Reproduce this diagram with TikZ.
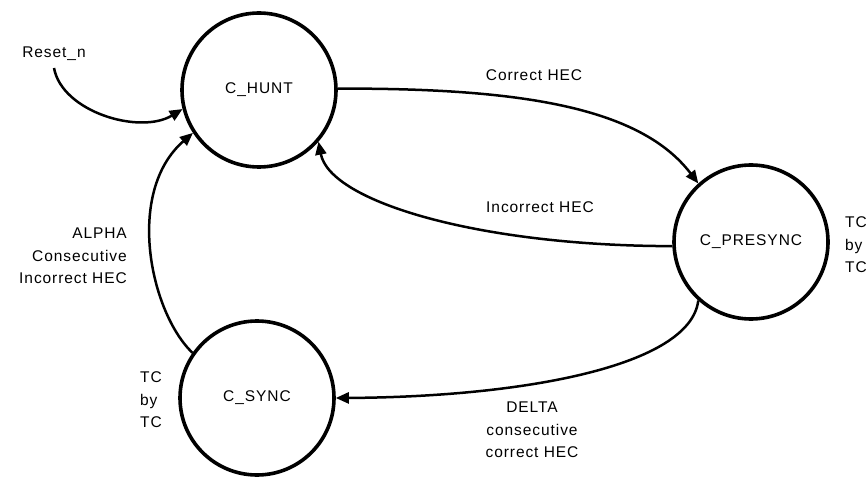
\documentclass[tikz,border=0pt]{standalone}
\usepackage{fontspec}
\setmainfont{Liberation Sans}[LetterSpace=6]
\usetikzlibrary{arrows.meta}
\begin{document}
\begin{tikzpicture}[x=1pt,y=1pt,
  state/.style={circle, draw, line width=3.6pt, minimum size=154pt, inner sep=0pt, font=\fontsize{15.5}{22.5}\selectfont},
  lbl/.style={inner sep=0pt, font=\fontsize{15.5}{22.5}\selectfont},
  edge/.style={line width=2.5pt, -{Triangle[length=13pt,width=11pt]}},
]
\useasboundingbox (0,0) rectangle (866,477);

\node[state] (hunt) at (259,387) {C\_HUNT};
\node[state] (presync) at (751,235) {C\_PRESYNC};
\node[state] (sync) at (257,79) {C\_SYNC};

\node[lbl] (reset) at (54,423) {Reset\_n};
\coordinate (rs) at (54,409);

\node[lbl] (lcorrect) at (534,402) {Correct HEC};
\node[lbl] (lincorrect) at (540,270) {Incorrect HEC};
\node[lbl, anchor=west, align=left] (ltcr) at (845,232) {TC\\by\\TC};
\node[lbl, anchor=east, align=right] (lalpha) at (127,221) {ALPHA\\Consecutive\\Incorrect HEC};
\node[lbl, anchor=west, align=left] (ltcl) at (140,77) {TC\\by\\TC};
\node[lbl, align=center] (ldelta) at (532,47) {DELTA\\consecutive\\correct HEC};

\draw[edge] (rs) .. controls (62,365) and (140,342) .. (hunt.194);
\draw[edge] (hunt.1) .. controls (520,389) and (640,370) .. (presync.132);
\draw[edge] (presync.183) .. controls (480,231) and (330,275) .. (hunt.-41);
\draw[edge] (presync.228) .. controls (690,110) and (520,80) .. (sync.0);
\draw[edge] (sync.145) .. controls (150,165) and (125,285) .. (hunt.213);
\end{tikzpicture}
\end{document}
